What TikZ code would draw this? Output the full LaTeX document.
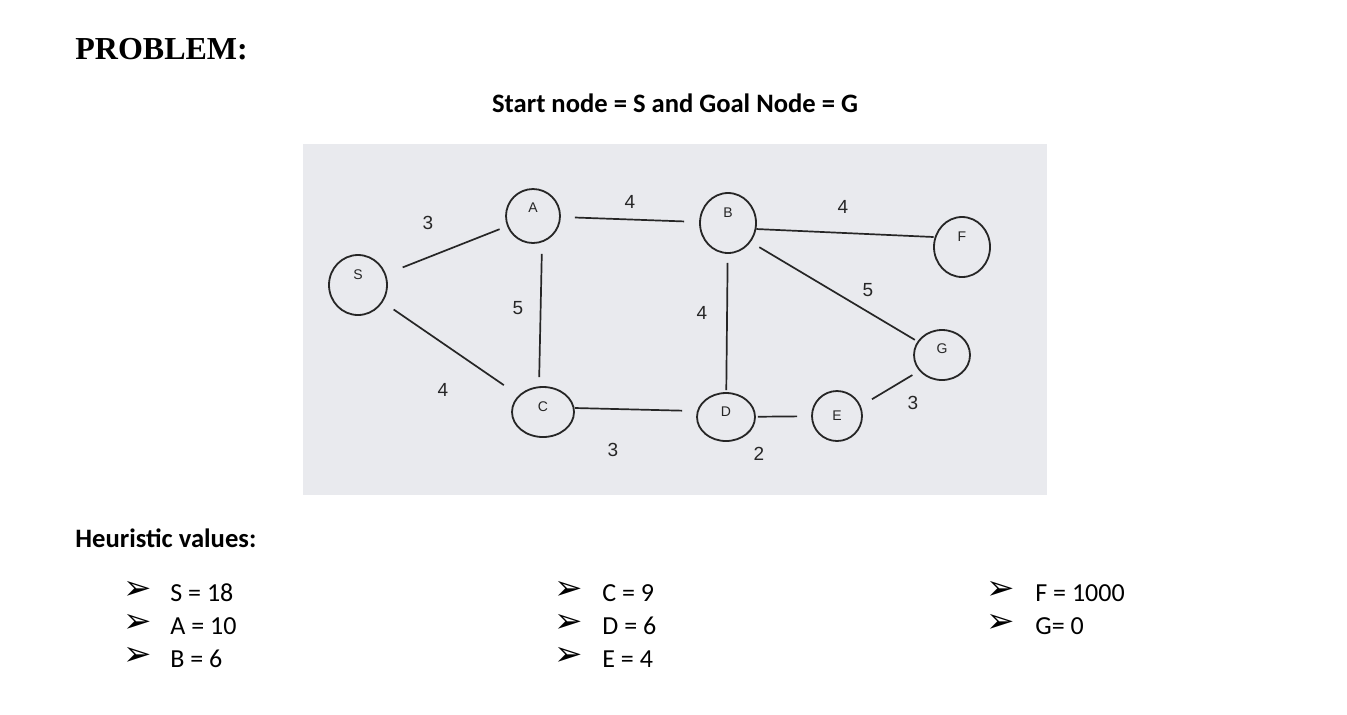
\documentclass[tikz,border=0pt]{standalone}
\usepackage{fontspec}
\setmainfont{Carlito}
\newfontfamily\probfont{Liberation Serif}
\newfontfamily\graphfont{Liberation Sans}
\newfontfamily\symfont{DejaVu Sans}
\usetikzlibrary{shapes.geometric,calc}
\definecolor{photobg}{HTML}{E9EAEE}
\definecolor{ink}{HTML}{262626}
\begin{document}
\begin{tikzpicture}[x=0.5pt,y=-0.5pt,
  vtx/.style={ellipse,draw=ink,line width=0.9pt,inner sep=0pt},
  vlab/.style={font=\graphfont\fontsize{7}{8}\selectfont,text=ink,inner sep=0pt},
  edge/.style={draw=ink,line width=0.85pt},
  elab/.style={font=\graphfont\fontsize{9.5}{11}\selectfont,text=ink,inner sep=0pt},
  htext/.style={font=\fontsize{13}{15}\selectfont,inner sep=0pt,anchor=base west},
  bul/.style={font=\symfont\fontsize{17}{18}\selectfont,inner sep=0pt,anchor=base west},
  headtext/.style={font=\bfseries\fontsize{13.3}{15}\selectfont,inner sep=0pt}
]
\useasboundingbox[fill=white] (0,0) rectangle (1347,714);
\fill[photobg] (303,144) rectangle (1047,495);

% titles
\node[font=\probfont\bfseries\fontsize{16}{18}\selectfont,inner sep=0pt,anchor=base west] (prob) at (75,59) {PROBLEM:};
\node[headtext,anchor=base] (title) at (675,112) {Start node = S and Goal Node = G};
\node[headtext,anchor=base west] (heur) at (75,547) {Heuristic values:};

% graph nodes
\node[vtx,minimum width=29pt,minimum height=30pt,label={[vlab,yshift=5pt]center:S}] (S) at (358,285) {};
\node[vtx,minimum width=27pt,minimum height=27pt,label={[vlab,yshift=4pt]center:A}] (A) at (533,216) {};
\node[vtx,minimum width=31pt,minimum height=25pt,label={[vlab,yshift=2.5pt]center:C}] (C) at (543,412) {};
\node[vtx,minimum width=28pt,minimum height=30pt,label={[vlab,yshift=5pt]center:B}] (B) at (728,223) {};
\node[vtx,minimum width=28pt,minimum height=30pt,label={[vlab,yshift=5pt]center:F}] (F) at (962,247) {};
\node[vtx,minimum width=28pt,minimum height=25pt,label={[vlab,yshift=3pt]center:G}] (G) at (942,355) {};
\node[vtx,minimum width=29pt,minimum height=24pt,label={[vlab,yshift=2.5pt]center:D}] (D) at (726,417) {};
\node[vtx,minimum width=25pt,minimum height=25pt,label={[vlab]center:E}] (E) at (837,416) {};

% edges
\draw[edge,shorten <=9pt,shorten >=4pt] (S) -- (A);
\draw[edge,shorten <=6.5pt,shorten >=9pt] (S) -- (C);
\draw[edge,shorten <=5pt,shorten >=4.5pt] ([xshift=4.5pt]A.south) -- ([xshift=-2pt]C.north);
\draw[edge,shorten <=7pt,shorten >=7.5pt] (A) -- (B);
\draw[edge,shorten >=7pt] ([yshift=2pt]C.east) -- ([yshift=3pt]D.west);
\draw[edge,shorten <=4.5pt,shorten >=1pt] (B) -- (D);
\draw[edge,shorten >=0.5pt] (B.-12) -- (F.160);
\draw[edge,shorten <=5pt,shorten >=1.5pt] (B.-40) -- (G.151);
\draw[edge,shorten <=1pt,shorten >=7pt] (D) -- (E);
\draw[edge,shorten <=6.5pt,shorten >=4pt] (E.23) -- (G.215);

% edge weights
\node[elab] (wSA) at (428,223) {3};
\node[elab] (wAB) at (630,202) {4};
\node[elab] (wAC) at (518,308) {5};
\node[elab] (wSC) at (443,390) {4};
\node[elab] (wCD) at (613,450) {3};
\node[elab] (wBF) at (843,207) {4};
\node[elab] (wBG) at (868,290) {5};
\node[elab] (wBD) at (702,313) {4};
\node[elab] (wEG) at (913,403) {3};
\node[elab] (wDE) at (759,454) {2};

% heuristic list
\node[bul] (b1) at (123,599) {➢};
\node[bul] (b2) at (123,632) {➢};
\node[bul] (b3) at (123,665) {➢};
\node[htext] (hS) at (170,601) {S = 18};
\node[htext] (hA) at (170,634) {A = 10};
\node[htext] (hB) at (170,667) {B = 6};
\node[bul] (b4) at (554,599) {➢};
\node[bul] (b5) at (554,632) {➢};
\node[bul] (b6) at (554,665) {➢};
\node[htext] (hC) at (602,601) {C = 9};
\node[htext] (hD) at (602,634) {D = 6};
\node[htext] (hE) at (602,667) {E = 4};
\node[bul] (b7) at (986,599) {➢};
\node[bul] (b8) at (986,632) {➢};
\node[htext] (hF) at (1035,601) {F = 1000};
\node[htext] (hG) at (1035,634) {G= 0};
\end{tikzpicture}
\end{document}
